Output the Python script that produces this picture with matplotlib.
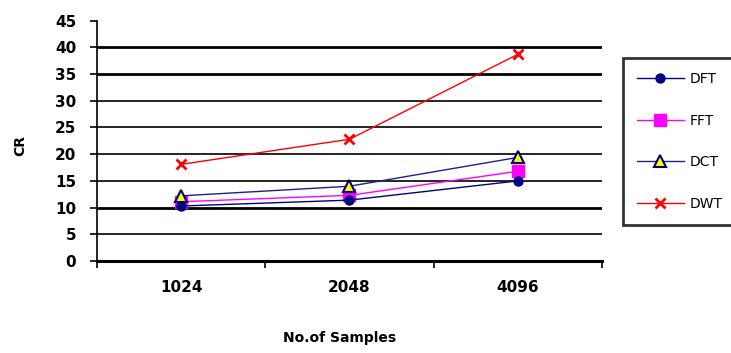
import matplotlib
matplotlib.use("Agg")
from matplotlib import pyplot as plt

samples = ["1024", "2048", "4096"]
dft = [10.3, 11.4, 15.0]
fft = [11.1, 12.3, 16.8]
dct = [12.2, 14.0, 19.4]
dwt = [18.1, 22.8, 38.7]

plt.rcParams['font.family'] = ['DejaVu Sans']

fig = plt.figure(figsize=(7.31, 3.53), dpi=100)
ax = fig.add_axes([0.1327, 0.2606, 0.6908, 0.6808])

x = [1, 2, 3]
ax.plot(x, dft, color='#000080', lw=1, marker='o', ms=6.5, mfc='#000080', mec='#000080', label='DFT', zorder=5)
ax.plot(x, fft, color='#ff00ff', lw=1, marker='s', ms=8, mfc='#ff00ff', mec='#ff00ff', label='FFT', zorder=4)
ax.plot(x, dct, color='#1f1f8f', lw=1, marker='^', ms=8, mfc='#ffff00', mec='#000080', mew=1.5, label='DCT', zorder=6)
ax.plot(x, dwt, color='#ff0000', lw=1, marker='x', ms=7, mew=2, label='DWT', zorder=5)

ax.set_xlim(0.5, 3.5)
ax.set_ylim(0, 45)
ax.set_yticks(range(0, 50, 5))
ax.set_xticks([0.5, 1.5, 2.5, 3.5])
ax.set_xticklabels([])
ax.set_xticks(x, minor=True)
ax.set_xticklabels(samples, minor=True, fontweight='bold', fontsize=11)
ax.tick_params(axis='x', which='minor', length=0, pad=14)
ax.tick_params(axis='x', which='major', length=5, width=1.2, direction='out')
ax.tick_params(axis='y', length=5, width=1.2, direction='out', labelsize=11, pad=10)
for t in ax.get_yticklabels():
    t.set_fontweight('bold')

for v in range(5, 45, 5):
    lw = 2 if v in (10, 35, 40) else 1.2
    ax.axhline(v, color='black', lw=lw, zorder=1)

ax.spines['top'].set_visible(False)
ax.spines['right'].set_visible(False)
ax.spines['bottom'].set_linewidth(2.2)
ax.spines['left'].set_linewidth(1.2)

fig.text(340 / 731, 1 - 338 / 353, 'No.of Samples', fontweight='bold', fontsize=10,
         ha='center', va='center')
fig.text(20 / 731, 1 - 146 / 353, 'CR', rotation=90, fontweight='bold', fontsize=10,
         ha='center', va='center')

leg = fig.legend(loc='upper left', bbox_to_anchor=(0.852, 0.836), frameon=True,
                 fancybox=False, edgecolor='black', fontsize=10, handlelength=3.4,
                 labelspacing=2.0, borderpad=1.0, handletextpad=0.4, borderaxespad=0)
leg.get_frame().set_linewidth(2)

fig.savefig('out.png', dpi=100)
